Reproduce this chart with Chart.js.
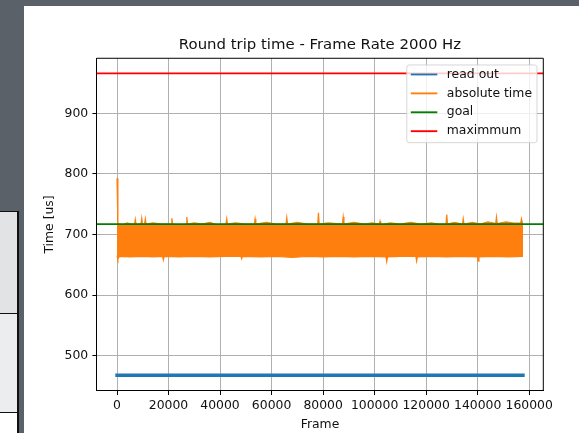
<!DOCTYPE html>
<html>
<head>
<meta charset="utf-8">
<script src="https://cdn.jsdelivr.net/npm/chart.js@4.4.1/dist/chart.umd.min.js"></script>
<style>
  html, body { margin: 0; padding: 0; }
  body { width: 579px; height: 433px; overflow: hidden; background: #5b6168; position: relative; font-family: "DejaVu Sans", sans-serif; }
  #card { position: absolute; left: 24px; top: 6px; width: 555px; height: 427px; background: #ffffff; overflow: hidden; }
  #chart { position: absolute; left: 0; top: 0; }
  .cell { position: absolute; left: 0; width: 17px; border-top: 1.5px solid #111; border-right: 2px solid #111; }
</style>
</head>
<body>
<div class="cell" style="top:211px;height:101px;background:#e2e3e5;"></div>
<div class="cell" style="top:313px;height:98px;background:#ecedee;"></div>
<div class="cell" style="top:412px;height:30px;background:#ffffff;"></div>
<div id="card"><canvas id="chart" width="576" height="432"></canvas></div>
<script>
// ---- Data ----
const chartTitle = 'Round trip time - Frame Rate 2000 Hz';
const xAxisLabel = 'Frame';
const yAxisLabel = 'Time [us]';

const xTicks = [0, 20000, 40000, 60000, 80000, 100000, 120000, 140000, 160000];
const yTicks = [500, 600, 700, 800, 900];
const xMin = -7880, xMax = 165480;
const yMin = 442, yMax = 991;

// read out (thin noisy band ~467)
const readFrames = [0, 40000, 80000, 120000, 157600];
const readValues = [467.5, 467.5, 467.6, 467.5, 467.4];

// absolute time: upper envelope of the dense noisy band (incl. spikes)
const absHighFrames = [0, 350, 2000, 4000, 5500, 6800, 7100, 7400, 9300, 9600, 9900, 10700, 11000, 11300, 14000, 17000, 21000, 21300, 21600, 24000, 26800, 27100, 27400, 30000, 33000, 36000, 39000, 42300, 42600, 42900, 46000, 50000, 53300, 53600, 53900, 58000, 62000, 65600, 65900, 66200, 70000, 74000, 77900, 78200, 78500, 82000, 87500, 87800, 88100, 92000, 96000, 99000, 101800, 102100, 102400, 106000, 110000, 114000, 118000, 122000, 125000, 127700, 128000, 128300, 131000, 134100, 134400, 134700, 138000, 141000, 144000, 147000, 147300, 147600, 151000, 154000, 156700, 157000, 157300, 157600];
const absHighValues = [793, 718, 716, 719, 717, 717, 725, 717, 717, 727, 717, 717, 726, 717, 719, 717, 717, 727, 717, 716, 717, 729, 717, 719, 717, 720, 716, 717, 726, 717, 719, 717, 717, 726, 717, 720, 717, 717, 728, 717, 720, 717, 717, 736, 717, 719, 717, 729, 717, 720, 717, 719, 717, 722, 716, 719, 717, 720, 717, 719, 717, 717, 733, 717, 720, 717, 726, 717, 720, 717, 721, 718, 729, 718, 721, 719, 719, 726, 720, 720];
// absolute time: lower envelope
const absLowFrames = [0, 350, 900, 5000, 10000, 14000, 17700, 18000, 18300, 24000, 30000, 36000, 42000, 48100, 48400, 48700, 56000, 62000, 68000, 74000, 80000, 86000, 92000, 98000, 104400, 104700, 105000, 110000, 116000, 116300, 116600, 122000, 128000, 134000, 139900, 140200, 140500, 146000, 152000, 157600];
const absLowValues = [665, 659, 664, 663, 664, 663, 664, 658, 664, 663, 664, 663, 664, 664, 660, 664, 663, 664, 662, 664, 663, 664, 663, 664, 663, 655, 663, 664, 664, 656, 663, 664, 663, 664, 663, 656, 663, 664, 663, 664];

const goalValue = 717;
const maximumValue = 966;

const seriesLabels = ['read out', 'absolute time', 'goal', 'maximmum'];
const seriesColors = ['#1f77b4', '#ff7f0e', '#008000', '#ff0000'];

// ---- Build chart ----
const toXY = (xs, ys) => xs.map((x, i) => ({ x: x, y: ys[i] }));
const FONT = '"DejaVu Sans", "Liberation Sans", sans-serif';

const spines = {
  id: 'spines',
  afterDatasetsDraw(chart) {
    const { ctx, chartArea: a } = chart;
    ctx.save();
    ctx.strokeStyle = '#000';
    ctx.lineWidth = 1;
    ctx.beginPath();
    ctx.moveTo(a.left, a.top); ctx.lineTo(a.right, a.top); ctx.lineTo(a.right, a.bottom);
    ctx.stroke();
    ctx.restore();
  }
};

const mplLegend = {
  id: 'mplLegend',
  afterDraw(chart) {
    const { ctx, chartArea: a } = chart;
    const items = chart.data.datasets.filter(d => d.inLegend);
    ctx.save();
    ctx.font = '12.4px ' + FONT;
    const maxW = Math.max(...items.map(d => ctx.measureText(d.label).width));
    const w = 4 + 26.5 + 9.5 + maxW + 5;
    const rowH = 18.9;
    const h = 77.7;
    const x = a.right - 6.3 - w;
    const y = a.top + 6.7;
    ctx.beginPath();
    ctx.roundRect(x, y, w, h, 2.5);
    ctx.fillStyle = 'rgba(255,255,255,0.8)';
    ctx.fill();
    ctx.strokeStyle = 'rgba(204,204,204,0.8)';
    ctx.lineWidth = 1;
    ctx.stroke();
    items.forEach((d, i) => {
      const cy = y + 9.5 + i * rowH;
      ctx.beginPath();
      ctx.moveTo(x + 4, cy);
      ctx.lineTo(x + 30.5, cy);
      ctx.strokeStyle = d.legendColor;
      ctx.lineWidth = 1.86;
      ctx.stroke();
      ctx.fillStyle = '#111';
      ctx.textBaseline = 'middle';
      ctx.textAlign = 'left';
      ctx.fillText(d.label, x + 40, cy);
    });
    ctx.restore();
  }
};

new Chart(document.getElementById('chart'), {
  type: 'line',
  data: {
    datasets: [
      { label: seriesLabels[0], inLegend: true, legendColor: seriesColors[0],
        data: toXY(readFrames, readValues), borderColor: seriesColors[0], borderWidth: 3.4,
        borderCapStyle: 'square', pointRadius: 0, fill: false, order: 3 },
      { label: seriesLabels[1], inLegend: true, legendColor: seriesColors[1],
        data: toXY(absHighFrames, absHighValues), borderColor: seriesColors[1], borderWidth: 1.2,
        backgroundColor: seriesColors[1], pointRadius: 0, fill: '+1', order: 2 },
      { label: seriesLabels[1] + ' (low)', inLegend: false,
        data: toXY(absLowFrames, absLowValues), borderColor: seriesColors[1], borderWidth: 1.2,
        pointRadius: 0, fill: false, order: 2 },
      { label: seriesLabels[2], inLegend: true, legendColor: seriesColors[2],
        data: toXY([xMin, xMax], [goalValue, goalValue]), borderColor: seriesColors[2], borderWidth: 1.86,
        pointRadius: 0, fill: false, order: 1 },
      { label: seriesLabels[3], inLegend: true, legendColor: seriesColors[3],
        data: toXY([xMin, xMax], [maximumValue, maximumValue]), borderColor: seriesColors[3], borderWidth: 1.86,
        pointRadius: 0, fill: false, order: 0 }
    ]
  },
  options: {
    responsive: false,
    animation: false,
    devicePixelRatio: 1,
    events: [],
    elements: { line: { tension: 0 } },
    layout: { padding: { left: 0, right: 56.7, top: 0, bottom: 0 } },
    plugins: {
      legend: { display: false },
      tooltip: { enabled: false },
      title: {
        display: true, text: chartTitle, fullSize: false, color: '#111',
        font: { family: FONT, size: 14.9, weight: 'normal', lineHeight: 1.2 },
        padding: { top: 30.1, bottom: 4.3 }
      }
    },
    scales: {
      x: {
        type: 'linear', min: xMin, max: xMax,
        afterBuildTicks: s => { s.ticks = xTicks.map(v => ({ value: v })); },
        afterFit: s => { s.height = 47.3; },
        ticks: { callback: v => String(v), color: '#111', padding: 3.6, maxRotation: 0, autoSkip: false,
                 font: { family: FONT, size: 12.4 } },
        grid: { color: '#b0b0b0', lineWidth: 1, tickColor: '#000', tickLength: 4.3, tickWidth: 1 },
        border: { color: '#000', width: 1 },
        title: { display: true, text: xAxisLabel, color: '#111', padding: { top: 0, bottom: 5.3 },
                 font: { family: FONT, size: 12.4, lineHeight: 1.2 } }
      },
      y: {
        type: 'linear', min: yMin, max: yMax,
        afterBuildTicks: s => { s.ticks = yTicks.map(v => ({ value: v })); },
        afterFit: s => { s.width = 72.7; },
        ticks: { callback: v => String(v), color: '#111', padding: 4.2,
                 font: { family: FONT, size: 12.4 } },
        grid: { color: '#b0b0b0', lineWidth: 1, tickColor: '#000', tickLength: 4.3, tickWidth: 1 },
        border: { color: '#000', width: 1 },
        title: { display: true, text: yAxisLabel, color: '#111', padding: { top: 18.6, bottom: 0 },
                 font: { family: FONT, size: 12.4, lineHeight: 1.2 } }
      }
    }
  },
  plugins: [spines, mplLegend]
});
</script>
</body>
</html>
